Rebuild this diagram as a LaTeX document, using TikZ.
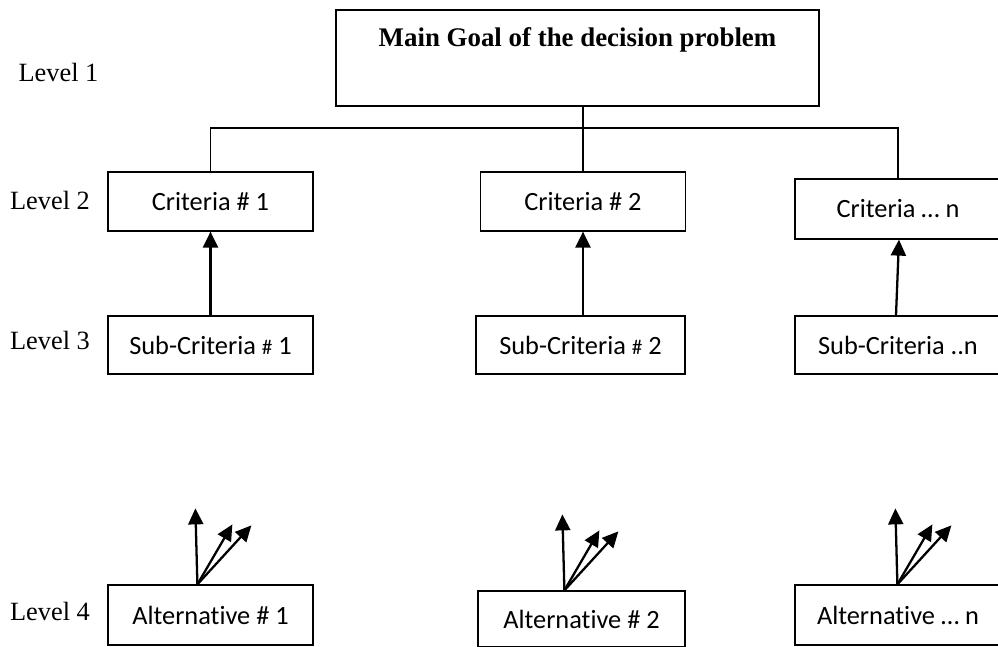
\documentclass[tikz,border=0pt]{standalone}
\usepackage{fontspec}
\setmainfont{Liberation Serif}
\newfontfamily\boxfont[Ligatures=NoCommon]{Carlito}
\usetikzlibrary{arrows.meta}

\begin{document}
\begin{tikzpicture}[>={Triangle[length=0.32cm,width=0.3cm]},
    font=\fontsize{15}{18}\selectfont,
    box/.style={draw,line width=0.7pt,minimum width=4.1cm,minimum height=1.18cm,
      font=\boxfont\fontsize{15}{18}\selectfont},
    arr/.style={->,line width=1.3pt},
    link/.style={line width=0.7pt}]
    \useasboundingbox (0,0) rectangle (19.96,-12.94);
    \node[draw,line width=0.7pt,minimum width=9.66cm,minimum height=1.92cm] (goal) at (11.55,-1.16) {};
    \node[font=\bfseries\fontsize{15.3}{18}\selectfont] (goaltext) at (11.55,-0.8) {Main Goal of the decision problem};
    \node (lev1) at (1.17,-1.44) {Level 1};
    \node (lev2) at (1.0,-4.0) {Level 2};
    \node (lev3) at (1.0,-6.8) {Level 3};
    \node (lev4) at (1.0,-12.22) {Level 4};
    \node[box] (crit1) at (4.21,-4.03) {Criteria \# 1};
    \node[box] (crit2) at (11.66,-4.03) {Criteria \# 2};
    \node[box,minimum width=4.12cm,minimum height=1.2cm] (critn) at (17.96,-4.18) {Criteria … n};
    \node[box,minimum height=1.16cm] (sub1) at (4.21,-6.9) {Sub-Criteria {\fontsize{12}{14}\selectfont\#} 1};
    \node[box,minimum width=4.18cm,minimum height=1.16cm] (sub2) at (11.61,-6.9) {Sub-Criteria {\fontsize{12}{14}\selectfont\#} 2};
    \node[box,minimum width=4.12cm,minimum height=1.16cm] (subn) at (17.96,-6.9) {Sub-Criteria ..n};
    \node[box,minimum height=1.2cm] (alt1) at (4.21,-12.3) {Alternative \# 1};
    \node[box,minimum width=4.14cm,minimum height=1.12cm] (alt2) at (11.63,-12.38) {Alternative \# 2};
    \node[box,minimum width=4.12cm,minimum height=1.2cm] (altn) at (17.96,-12.3) {Alternative … n};
    \coordinate (bus) at (0,-2.56);
    \draw[link] (crit1.north) |- (critn.north |- bus) -- (critn.north);
    \draw[link] (goal.south -| crit2.north) -- (crit2.north);
    \draw[arr] (sub1.north) -- (crit1.south);
    \draw[arr] (sub2.north -| crit2.south) -- (crit2.south);
    \draw[arr] ([xshift=-0.04cm]subn.north) -- ([xshift=0.02cm]critn.south);
    \foreach \n/\dx in {alt1/1.8,alt2/1.74,altn/2.06}{
      \coordinate (\n-o) at ([xshift=\dx cm]\n.north west);
      \coordinate (\n-up) at ([shift={(-0.04,1.52)}]\n-o);
      \coordinate (\n-mid) at ([shift={(0.7,1.2)}]\n-o);
      \coordinate (\n-far) at ([shift={(1.08,1.18)}]\n-o);
      \draw[arr] (\n-o) -- (\n-up);
      \draw[arr] (\n-o) -- (\n-mid);
      \draw[arr] (\n-o) -- (\n-far);
    }
\end{tikzpicture}
\end{document}
